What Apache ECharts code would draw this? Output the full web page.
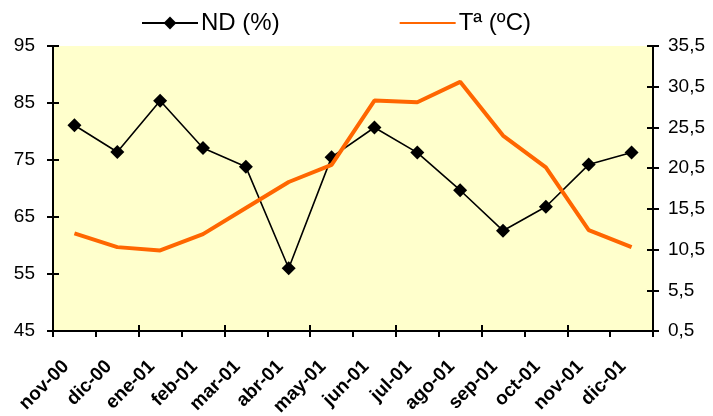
<!DOCTYPE html>
<html lang="es">
<head>
    <meta charset="UTF-8">
    <title>ND y Temperatura</title>
    <script src="https://cdn.jsdelivr.net/npm/echarts@6/dist/echarts.min.js"></script>
    <style>
        html, body {
            margin: 0;
            padding: 0;
            background: #ffffff;
        }
        #chart {
            width: 713px;
            height: 416px;
        }
    </style>
</head>
<body>
<div id="chart"></div>
<script>
    // meses
    var meses = ['nov-00', 'dic-00', 'ene-01', 'feb-01', 'mar-01', 'abr-01', 'may-01',
        'jun-01', 'jul-01', 'ago-01', 'sep-01', 'oct-01', 'nov-01', 'dic-01'];

    // ND (%) - eje izquierdo
    var nd = [81.1, 76.4, 85.4, 77.1, 73.8, 56.0, 75.5, 80.7, 76.3, 69.7, 62.6, 66.8, 74.2, 76.3];

    // Tª (ºC) - eje derecho
    var temp = [12.5, 10.8, 10.4, 12.4, 15.6, 18.8, 20.9, 28.8, 28.6, 31.1, 24.5, 20.6, 12.9, 10.8];

    // marcas de los ejes
    var ndTicks = [45, 55, 65, 75, 85, 95];
    var tempTicks = [0.5, 5.5, 10.5, 15.5, 20.5, 25.5, 30.5, 35.5];

    var fuente = 'Liberation Sans, Arial, sans-serif';

    function coma(v) {
        return v.toFixed(1).replace('.', ',');
    }

    // eje Y base (linea, marcas hacia fuera, etiquetas)
    function ejeY(pos, ticks, fmt) {
        return {
            type: 'value',
            position: pos,
            min: ticks[0],
            max: ticks[ticks.length - 1],
            splitLine: {show: false},
            axisLine: {show: true, lineStyle: {color: '#000', width: 2}},
            axisTick: {show: true, length: 6, lineStyle: {color: '#000', width: 2}, customValues: ticks},
            axisLabel: {
                show: true, customValues: ticks, formatter: fmt,
                color: '#000', fontSize: 19, fontFamily: fuente,
                margin: pos === 'left' ? 18 : 15
            }
        };
    }

    // eje Y extra solo para la parte interior de la marca (cruz)
    function ejeYInterior(pos, ticks) {
        return {
            type: 'value',
            position: pos,
            offset: 0,
            min: ticks[0],
            max: ticks[ticks.length - 1],
            splitLine: {show: false},
            axisLine: {show: false},
            axisTick: {show: true, inside: true, length: 6, lineStyle: {color: '#000', width: 2}, customValues: ticks},
            axisLabel: {show: false}
        };
    }

    var chart = echarts.init(document.getElementById('chart'));

    chart.setOption({
        animation: false,
        textStyle: {fontFamily: fuente},
        legend: {
            data: [
                {name: 'ND (%)'},
                {name: 'Tª (ºC)', itemStyle: {opacity: 0}}
            ],
            left: 136,
            top: 6,
            itemWidth: 56,
            itemHeight: 16,
            itemGap: 119,
            textStyle: {fontSize: 24, color: '#000', fontFamily: fuente, padding: [0, 0, 0, -2]}
        },
        grid: {
            left: 53,
            right: 60,
            top: 46,
            bottom: 85,
            containLabel: false,
            outerBoundsMode: 'none',
            show: true,
            backgroundColor: '#FFFFCC',
            borderWidth: 0
        },
        xAxis: [
            {
                type: 'category',
                data: meses,
                boundaryGap: true,
                axisLine: {show: true, lineStyle: {color: '#000', width: 2}},
                axisTick: {show: true, length: 6, lineStyle: {color: '#000', width: 2}},
                axisLabel: {
                    rotate: 45,
                    interval: 0,
                    margin: 24,
                    padding: [0, 12, 0, 0],
                    color: '#000',
                    fontSize: 19,
                    fontWeight: 'bold',
                    fontFamily: fuente
                }
            },
            {
                type: 'category',
                data: meses,
                position: 'bottom',
                offset: 0,
                boundaryGap: true,
                axisLine: {show: false},
                axisTick: {show: true, inside: true, length: 6, lineStyle: {color: '#000', width: 2}},
                axisLabel: {show: false}
            }
        ],
        yAxis: [
            ejeY('left', ndTicks, function (v) { return String(v); }),
            ejeY('right', tempTicks, coma),
            ejeYInterior('left', ndTicks),
            ejeYInterior('right', tempTicks)
        ],
        series: [
            {
                name: 'ND (%)',
                type: 'line',
                data: nd,
                yAxisIndex: 0,
                symbol: 'diamond',
                symbolSize: 14,
                itemStyle: {color: '#000'},
                lineStyle: {color: '#000', width: 1.6},
                z: 2
            },
            {
                name: 'Tª (ºC)',
                type: 'line',
                data: temp,
                yAxisIndex: 1,
                symbol: 'none',
                itemStyle: {color: '#FF6600'},
                lineStyle: {color: '#FF6600', width: 4},
                z: 3
            }
        ]
    });
</script>
</body>
</html>
